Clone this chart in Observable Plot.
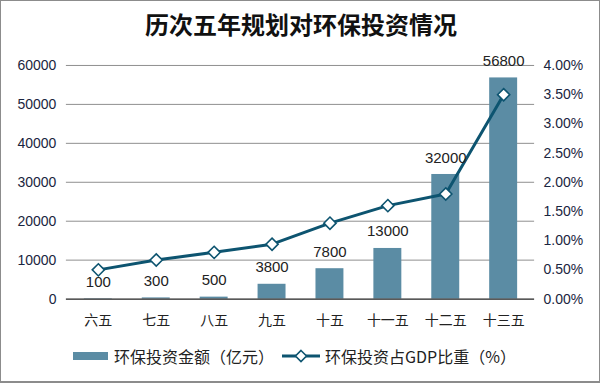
<!DOCTYPE html>
<html><head><meta charset="utf-8">
<script src="https://cdn.jsdelivr.net/npm/d3@7"></script>
<script src="https://cdn.jsdelivr.net/npm/@observablehq/plot@0.6"></script>
<style>
body{margin:0;background:#fff;}
#wrap{width:600px;height:383px;box-sizing:border-box;border:1px solid #8c8c8c;border-bottom:2px solid #8c8c8c;position:relative;overflow:hidden;background:#fff;font-family:"Liberation Sans",Arial,sans-serif;}
#title{position:absolute;left:0;top:6px;width:600px;text-align:center;font-family:"Noto Sans CJK SC",sans-serif;font-weight:bold;font-size:24px;line-height:34px;color:#111;}
#chart{position:absolute;left:-1px;top:44px;}
#legend{position:absolute;left:72px;top:344px;display:flex;align-items:center;font-family:"Noto Sans CJK SC",sans-serif;font-size:16px;color:#222;height:22px;}
.sw{display:inline-block;}
</style></head>
<body><div id="wrap"><div id="title">历次五年规划对环保投资情况</div><div id="chart"></div><div id="legend"></div></div>
<script>
const categories = ["六五","七五","八五","九五","十五","十一五","十二五","十三五"];
const investment = [100,300,500,3800,7800,13000,32000,56800];
const gdpShare = [0.50,0.67,0.80,0.94,1.30,1.60,1.80,3.50];
const leftTicks = [0,10000,20000,30000,40000,50000,60000];
const rightTicks = [0,0.5,1,1.5,2,2.5,3,3.5,4];
const seriesNames = ["环保投资金额（亿元）","环保投资占GDP比重（%）"];

const barColor = "#5b8ca4";
const lineColor = "#0d5470";
const k = 60000/4; // right-axis scale factor

const data = categories.map((c,i)=>({cat:c, inv:investment[i], pct:gdpShare[i], pctY:gdpShare[i]*k}));

const chart = Plot.plot({
  width: 600, height: 290,
  marginLeft: 66, marginRight: 65, marginTop: 20, marginBottom: 36,
  style:{fontFamily:"Liberation Sans, Arial, sans-serif", fontSize:"14px", background:"transparent"},
  x:{domain:categories, paddingInner:0.52, paddingOuter:0.26, label:null},
  y:{domain:[0,60000], label:null},
  marks:[
    Plot.ruleY(leftTicks.filter(d=>d>0), {stroke:"#8f8f8f", strokeWidth:1}),
    Plot.barY(data, {x:"cat", y:"inv", fill:barColor}),
    Plot.ruleY([0], {stroke:"#222", strokeWidth:1.2}),
    Plot.axisY(leftTicks, {anchor:"left", tickSize:0, tickPadding:10, tickFormat:d=>String(d), fill:"#1a2540", fontSize:14, label:null}),
    Plot.axisY(rightTicks.map(d=>d*k), {anchor:"right", tickSize:0, tickPadding:9, tickFormat:d=>(d/k).toFixed(2)+"%", fill:"#1a2540", fontSize:14, label:null}),
    Plot.axisX({tickSize:0, tickPadding:16, fontSize:14, fill:"#222", fontFamily:"Noto Sans CJK SC, sans-serif", label:null}),
    Plot.lineY(data, {x:"cat", y:"pctY", stroke:lineColor, strokeWidth:3}),
    Plot.dot(data, {x:"cat", y:"pctY", symbol:"diamond2", r:5.5, fill:"white", stroke:lineColor, strokeWidth:1.6}),
    Plot.text(data, {x:"cat", y:"inv", text:d=>String(d.inv), lineAnchor:"bottom", dy:-12, fontSize:15, fill:"#222"})
  ]
});
document.getElementById("chart").appendChild(chart);

const lg = document.getElementById("legend");
lg.innerHTML = `
<span class="sw" style="width:35px;height:8px;background:${barColor};margin-right:6px"></span>
<span>${seriesNames[0]}</span>
<svg width="38" height="14" style="margin:0 5px 0 8px"><line x1="0" y1="7" x2="38" y2="7" stroke="${lineColor}" stroke-width="3"/><path d="M19,1.5L24.5,7L19,12.5L13.5,7Z" fill="white" stroke="${lineColor}" stroke-width="1.6"/></svg>
<span>${seriesNames[1]}</span>`;
</script></body></html>
